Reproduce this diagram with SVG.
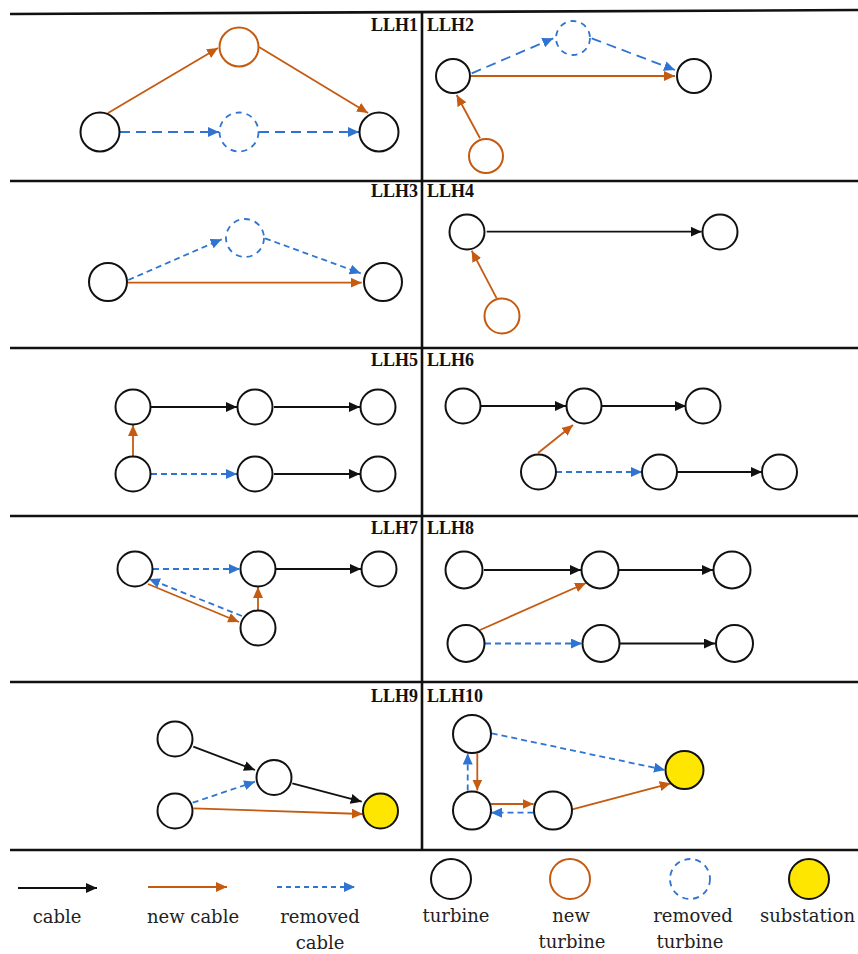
<svg xmlns="http://www.w3.org/2000/svg" width="858" height="954" viewBox="0 0 858 954">
<style>
.frame{stroke:#111;stroke-width:2.6;fill:none}
.t{fill:#fff;stroke:#111;stroke-width:2}
.nt{fill:#fff;stroke:#C55A11;stroke-width:2}
.rt{fill:#fff;stroke:#2F74D0;stroke-width:1.8;stroke-dasharray:6,5}
.ss{fill:#FFE600;stroke:#111;stroke-width:2}
.c{stroke:#111;stroke-width:1.8;fill:none;marker-end:url(#ak)}
.n{stroke:#C55A11;stroke-width:1.8;fill:none;marker-end:url(#ao)}
.r{stroke:#2F74D0;stroke-width:1.8;fill:none;stroke-dasharray:6,4;marker-end:url(#ab)}
.rl{stroke-dasharray:10,6}
.lbl{font-family:"Liberation Serif",serif;font-weight:bold;font-size:18px;fill:#111}
.leg{font-family:"DejaVu Serif",serif;font-size:18px;fill:#222;text-anchor:middle}
</style>
<defs>
<marker id="ak" markerUnits="userSpaceOnUse" markerWidth="11" markerHeight="10" refX="11" refY="5" orient="auto"><path d="M0,0 L11,5 L0,10 z" fill="#111"/></marker>
<marker id="ao" markerUnits="userSpaceOnUse" markerWidth="11" markerHeight="10" refX="11" refY="5" orient="auto"><path d="M0,0 L11,5 L0,10 z" fill="#C55A11"/></marker>
<marker id="ab" markerUnits="userSpaceOnUse" markerWidth="11" markerHeight="10" refX="11" refY="5" orient="auto"><path d="M0,0 L11,5 L0,10 z" fill="#2F74D0"/></marker>
</defs>
<rect width="858" height="954" fill="#fff"/>
<g id="frame">
<line class="frame" x1="10" y1="14" x2="858" y2="10"/>
<line class="frame" x1="10" y1="181" x2="858" y2="181"/>
<line class="frame" x1="10" y1="348" x2="858" y2="348"/>
<line class="frame" x1="10" y1="516" x2="858" y2="516"/>
<line class="frame" x1="10" y1="682" x2="858" y2="682"/>
<line class="frame" x1="10" y1="850" x2="858" y2="850"/>
<line class="frame" x1="422" y1="12" x2="422" y2="850"/>
</g>
<g id="labels">
<text class="lbl" x="418" y="31" text-anchor="end">LLH1</text>
<text class="lbl" x="427" y="31">LLH2</text>
<text class="lbl" x="418" y="197" text-anchor="end">LLH3</text>
<text class="lbl" x="427" y="197">LLH4</text>
<text class="lbl" x="418" y="366" text-anchor="end">LLH5</text>
<text class="lbl" x="427" y="366">LLH6</text>
<text class="lbl" x="418" y="534" text-anchor="end">LLH7</text>
<text class="lbl" x="427" y="534">LLH8</text>
<text class="lbl" x="418" y="702" text-anchor="end">LLH9</text>
<text class="lbl" x="427" y="702">LLH10</text>
</g>
<g id="connectors">
<!-- LLH1 -->
<line class="n" x1="108" y1="113" x2="218" y2="48"/>
<line class="n" x1="259" y1="47" x2="368" y2="113"/>
<line class="r rl" x1="120" y1="132" x2="219" y2="132"/>
<line class="r rl" x1="259" y1="132" x2="359" y2="132"/>
<!-- LLH2 -->
<line class="r rl" x1="471.7" y1="73.3" x2="553.3" y2="38.3"/>
<line class="r rl" x1="591.7" y1="38.3" x2="675" y2="70"/>
<line class="n" x1="470.7" y1="76" x2="675" y2="76"/>
<line class="n" x1="480" y1="138.3" x2="456.7" y2="95"/>
<!-- LLH3 -->
<line class="r" x1="128.3" y1="280" x2="221.7" y2="239.3"/>
<line class="r" x1="265" y1="238.3" x2="360.7" y2="273.3"/>
<line class="n" x1="128" y1="282.7" x2="361.7" y2="282.7"/>
<!-- LLH4 -->
<line class="c" x1="486.7" y1="231.7" x2="701.7" y2="231.7"/>
<line class="n" x1="496.7" y1="298.3" x2="471.7" y2="250.7"/>
<!-- LLH5 -->
<line class="c" x1="151" y1="407" x2="237" y2="407"/>
<line class="c" x1="274" y1="407" x2="360" y2="407"/>
<line class="n" x1="133" y1="456" x2="133" y2="425"/>
<line class="r" x1="151" y1="474" x2="237" y2="474"/>
<line class="c" x1="274" y1="474" x2="360" y2="474"/>
<!-- LLH6 -->
<line class="c" x1="481" y1="406" x2="566" y2="406"/>
<line class="c" x1="602" y1="406" x2="686" y2="406"/>
<line class="n" x1="538" y1="453" x2="573" y2="425"/>
<line class="r" x1="556" y1="472" x2="642" y2="472"/>
<line class="c" x1="677" y1="472" x2="762" y2="472"/>
<!-- LLH7 -->
<line class="r" x1="153" y1="569" x2="240" y2="569"/>
<line class="c" x1="276" y1="569" x2="361" y2="569"/>
<line class="n" x1="148" y1="584" x2="239" y2="622"/>
<line class="r" x1="242" y1="616" x2="149" y2="579"/>
<line class="n" x1="258" y1="610" x2="258" y2="587"/>
<!-- LLH8 -->
<line class="c" x1="484" y1="570" x2="581" y2="570"/>
<line class="c" x1="619" y1="570" x2="713" y2="570"/>
<line class="n" x1="480" y1="630" x2="586" y2="583"/>
<line class="r" x1="485" y1="643.5" x2="582" y2="643.5"/>
<line class="c" x1="620" y1="643.5" x2="715" y2="643.5"/>
<!-- LLH9 -->
<line class="c" x1="193.3" y1="746.7" x2="255" y2="770"/>
<line class="c" x1="292.3" y1="783.3" x2="361.7" y2="801.7"/>
<line class="r" x1="192.7" y1="802.7" x2="255" y2="781.7"/>
<line class="n" x1="193.3" y1="808.3" x2="362.7" y2="814"/>
<!-- LLH10 -->
<line class="r" x1="491.7" y1="733.3" x2="665" y2="770"/>
<line class="n" x1="477.3" y1="753.5" x2="477.3" y2="790.5"/>
<line class="r" x1="467.7" y1="790.5" x2="467.7" y2="753.5"/>
<line class="n" x1="491" y1="804" x2="533.5" y2="804"/>
<line class="r" x1="533.5" y1="812.7" x2="491" y2="812.7"/>
<line class="n" x1="572.3" y1="809.3" x2="670.7" y2="783.3"/>
</g>
<g id="llh1-a"><circle class="t" cx="100" cy="132" r="19.5"/></g>
<g id="llh1-new"><circle class="nt" cx="239" cy="47" r="19.5"/></g>
<g id="llh1-rem"><circle class="rt" cx="239" cy="132" r="19.5"/></g>
<g id="llh1-b"><circle class="t" cx="379" cy="132" r="19.5"/></g>
<g id="llh2-a"><circle class="t" cx="453" cy="76" r="17"/></g>
<g id="llh2-rem"><circle class="rt" cx="573" cy="38" r="17"/></g>
<g id="llh2-b"><circle class="t" cx="694" cy="76" r="17"/></g>
<g id="llh2-new"><circle class="nt" cx="486" cy="156" r="17"/></g>
<g id="llh3-a"><circle class="t" cx="108" cy="282" r="19"/></g>
<g id="llh3-rem"><circle class="rt" cx="245" cy="238" r="19"/></g>
<g id="llh3-b"><circle class="t" cx="383" cy="282" r="19"/></g>
<g id="llh4-a"><circle class="t" cx="467" cy="232" r="17.5"/></g>
<g id="llh4-b"><circle class="t" cx="720" cy="232" r="17.5"/></g>
<g id="llh4-new"><circle class="nt" cx="502" cy="316" r="17.5"/></g>
<g id="llh5-t1"><circle class="t" cx="133" cy="407" r="17.5"/></g>
<g id="llh5-t2"><circle class="t" cx="255" cy="407" r="17.5"/></g>
<g id="llh5-t3"><circle class="t" cx="378" cy="407" r="17.5"/></g>
<g id="llh5-b1"><circle class="t" cx="133" cy="474" r="17.5"/></g>
<g id="llh5-b2"><circle class="t" cx="255" cy="474" r="17.5"/></g>
<g id="llh5-b3"><circle class="t" cx="378" cy="474" r="17.5"/></g>
<g id="llh6-t1"><circle class="t" cx="463" cy="406" r="17.5"/></g>
<g id="llh6-t2"><circle class="t" cx="584" cy="406" r="17.5"/></g>
<g id="llh6-t3"><circle class="t" cx="703" cy="406" r="17.5"/></g>
<g id="llh6-b1"><circle class="t" cx="538.5" cy="472" r="17.5"/></g>
<g id="llh6-b2"><circle class="t" cx="659.5" cy="472" r="17.5"/></g>
<g id="llh6-b3"><circle class="t" cx="779.5" cy="472" r="17.5"/></g>
<g id="llh7-a"><circle class="t" cx="135" cy="569" r="17.5"/></g>
<g id="llh7-b"><circle class="t" cx="258" cy="569" r="17.5"/></g>
<g id="llh7-c"><circle class="t" cx="379" cy="569" r="17.5"/></g>
<g id="llh7-d"><circle class="t" cx="258" cy="628" r="17.5"/></g>
<g id="llh8-t1"><circle class="t" cx="464" cy="570" r="18.5"/></g>
<g id="llh8-t2"><circle class="t" cx="600" cy="570" r="18.5"/></g>
<g id="llh8-t3"><circle class="t" cx="732" cy="570" r="18.5"/></g>
<g id="llh8-b1"><circle class="t" cx="466" cy="643.5" r="18.5"/></g>
<g id="llh8-b2"><circle class="t" cx="601" cy="643.5" r="18.5"/></g>
<g id="llh8-b3"><circle class="t" cx="734.5" cy="643.5" r="18.5"/></g>
<g id="llh9-a"><circle class="t" cx="175" cy="739" r="17.5"/></g>
<g id="llh9-b"><circle class="t" cx="274" cy="777.5" r="17.5"/></g>
<g id="llh9-c"><circle class="t" cx="175" cy="811" r="17.5"/></g>
<g id="llh9-s"><circle class="ss" cx="380.5" cy="811" r="17.5"/></g>
<g id="llh10-a"><circle class="t" cx="472" cy="734" r="19"/></g>
<g id="llh10-b"><circle class="t" cx="472" cy="810.5" r="19"/></g>
<g id="llh10-c"><circle class="t" cx="553" cy="810.5" r="19"/></g>
<g id="llh10-s"><circle class="ss" cx="684.5" cy="770" r="19"/></g>
<g id="legend">
<line class="c" x1="18" y1="888" x2="97" y2="888"/>
<line class="n" x1="148" y1="887" x2="227" y2="887"/>
<line class="r" x1="277" y1="887" x2="355" y2="887" style="stroke-dasharray:5,4"/>
<text class="leg" x="57" y="923">cable</text>
<text class="leg" x="193" y="923">new cable</text>
<text class="leg" x="320" y="923">removed</text>
<text class="leg" x="320" y="949">cable</text>
<circle class="t" cx="451" cy="879" r="20"/>
<circle class="nt" cx="570" cy="879" r="20"/>
<circle class="rt" cx="690" cy="879" r="20"/>
<circle class="ss" cx="809" cy="879" r="20"/>
<text class="leg" x="456" y="922">turbine</text>
<text class="leg" x="571" y="922">new</text>
<text class="leg" x="572" y="948">turbine</text>
<text class="leg" x="693" y="922">removed</text>
<text class="leg" x="690" y="948">turbine</text>
<text class="leg" x="760" y="922" style="text-anchor:start">substation</text>
</g>
</svg>
